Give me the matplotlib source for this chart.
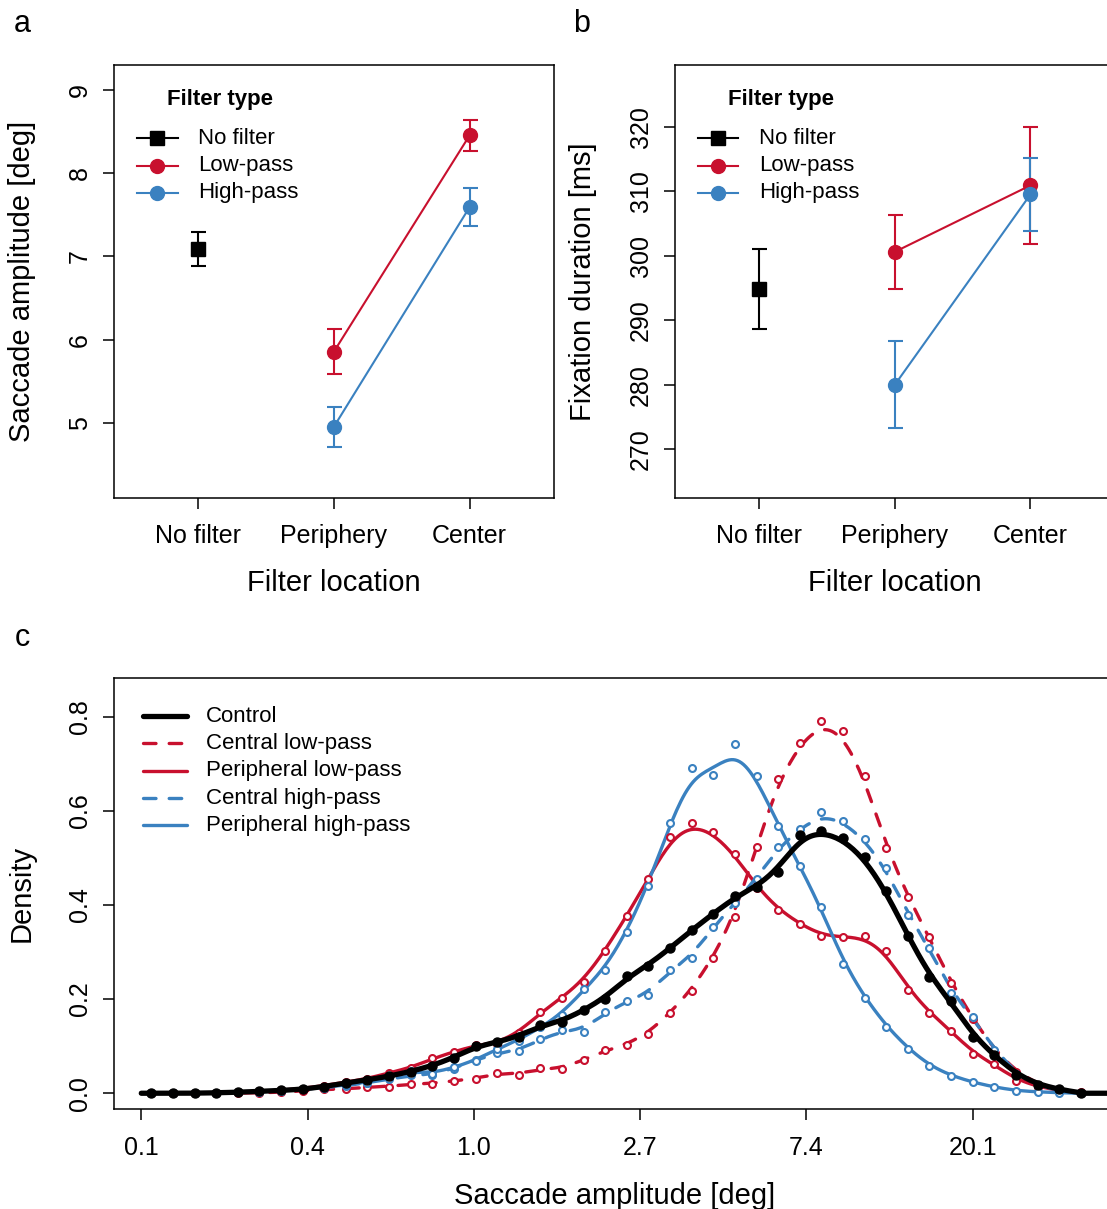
import numpy as np
import matplotlib.pyplot as plt

plt.rcParams['font.family'] = ['Liberation Sans', 'DejaVu Sans']
plt.rcParams['lines.scale_dashes'] = False

RED = '#C8102E'
BLUE = '#3A81C0'

##### Panel a/b data: means and standard errors per filter location
locations = ['No filter', 'Periphery', 'Center']

amp_none, amp_none_se = 7.09, 0.20
amp_low = [5.86, 8.45]
amp_low_se = [0.27, 0.19]
amp_high = [4.96, 7.59]
amp_high_se = [0.24, 0.225]

dur_none, dur_none_se = 294.9, 6.2
dur_low = [300.6, 310.9]
dur_low_se = [5.75, 9.1]
dur_high = [280.0, 309.5]
dur_high_se = [6.8, 5.7]

##### Panel c data: density of log saccade amplitude (bin centres in ln(deg))
log_amp = [-1.94, -1.81, -1.68, -1.55, -1.42, -1.29, -1.16, -1.03, -0.90, -0.77,
           -0.64, -0.51, -0.38, -0.25, -0.12, 0.01, 0.14, 0.27, 0.40, 0.53,
           0.66, 0.79, 0.92, 1.05, 1.18, 1.31, 1.44, 1.57, 1.70, 1.83,
           1.96, 2.09, 2.22, 2.35, 2.48, 2.61, 2.74, 2.87, 3.00, 3.13,
           3.26, 3.39, 3.52, 3.65]

control = [0.000, 0.000, 0.000, 0.001, 0.002, 0.004, 0.006, 0.008, 0.014, 0.022,
           0.028, 0.036, 0.046, 0.058, 0.075, 0.101, 0.108, 0.120, 0.145, 0.151,
           0.177, 0.200, 0.248, 0.271, 0.308, 0.347, 0.381, 0.418, 0.438, 0.471,
           0.549, 0.558, 0.542, 0.501, 0.430, 0.334, 0.246, 0.197, 0.120, 0.081,
           0.039, 0.018, 0.008, 0.001]
central_low = [0.000, 0.000, 0.000, 0.000, 0.000, 0.001, 0.002, 0.005, 0.008, 0.009,
               0.013, 0.014, 0.020, 0.020, 0.027, 0.030, 0.044, 0.039, 0.053, 0.051,
               0.071, 0.091, 0.103, 0.126, 0.171, 0.218, 0.287, 0.374, 0.524, 0.668,
               0.744, 0.791, 0.770, 0.674, 0.520, 0.416, 0.331, 0.234, 0.158, 0.090,
               0.045, 0.018, 0.007, 0.002]
peripheral_low = [0.000, 0.000, 0.000, 0.001, 0.002, 0.004, 0.006, 0.010, 0.016, 0.024,
                  0.030, 0.044, 0.053, 0.074, 0.088, 0.103, 0.105, 0.127, 0.172, 0.203,
                  0.237, 0.303, 0.377, 0.455, 0.544, 0.575, 0.555, 0.508, 0.437, 0.389,
                  0.360, 0.333, 0.332, 0.333, 0.303, 0.219, 0.171, 0.133, 0.084, 0.062,
                  0.027, 0.014, 0.005, 0.001]
central_high = [0.000, 0.000, 0.000, 0.001, 0.002, 0.003, 0.005, 0.008, 0.012, 0.016,
                0.022, 0.030, 0.038, 0.039, 0.052, 0.071, 0.086, 0.089, 0.115, 0.134,
                0.131, 0.172, 0.196, 0.209, 0.262, 0.288, 0.354, 0.404, 0.455, 0.524,
                0.561, 0.597, 0.578, 0.541, 0.478, 0.379, 0.309, 0.212, 0.162, 0.092,
                0.040, 0.015, 0.005, 0.001]
peripheral_high = [0.000, 0.000, 0.000, 0.001, 0.002, 0.003, 0.005, 0.008, 0.012, 0.018,
                   0.022, 0.037, 0.048, 0.040, 0.055, 0.069, 0.095, 0.112, 0.140, 0.166,
                   0.221, 0.262, 0.342, 0.441, 0.574, 0.690, 0.677, 0.742, 0.673, 0.568,
                   0.483, 0.395, 0.275, 0.203, 0.141, 0.095, 0.057, 0.037, 0.023, 0.013,
                   0.005, 0.003, 0.001, 0.000]

x_ticks = [-2, -1, 0, 1, 2, 3]
x_ticklabels = ['0.1', '0.4', '1.0', '2.7', '7.4', '20.1']


def smooth(x, y, grid, h=0.1):
    # gaussian-weighted local linear fit
    x = np.asarray(x); y = np.asarray(y)
    out = []
    for g in grid:
        w = np.exp(-0.5 * ((x - g) / h) ** 2)
        A = np.vstack([np.ones_like(x), x - g]).T
        coef = np.linalg.solve(A.T @ (A * w[:, None]), A.T @ (w * y))
        out.append(coef[0])
    return np.clip(out, 0, None)


def key(ax, x0, x1, xt, y, label, fs=16, **kw):
    ax.plot([x0, (x0 + x1) / 2, x1], [y, y, y], transform=ax.transAxes,
            clip_on=False, markevery=[1], **kw)
    ax.text(xt, y, label, transform=ax.transAxes, va='center', fontsize=fs)


def style_axes(ax):
    for s in ax.spines.values():
        s.set_linewidth(1.1)
    ax.tick_params(length=8, width=1.1, labelsize=18, pad=8)
    ax.tick_params(axis='x', pad=11)
    ax.tick_params(axis='y', labelrotation=90)
    for t in ax.get_yticklabels():
        t.set_va('center')


def effect_panel(ax, none, none_se, low, low_se, high, high_se, ylim, yticks, ylabel):
    ax.errorbar([1], [none], yerr=[none_se], color='black', marker='s', ms=9.5,
                lw=1.5, capsize=5.4, capthick=1.5)
    ax.errorbar([2, 3], low, yerr=low_se, color=RED, marker='o', ms=10,
                lw=1.5, capsize=5.4, capthick=1.5)
    ax.errorbar([2, 3], high, yerr=high_se, color=BLUE, marker='o', ms=10,
                lw=1.5, capsize=5.4, capthick=1.5)
    ax.set_xlim(0.38, 3.62)
    ax.set_ylim(*ylim)
    ax.set_xticks([1, 2, 3], locations)
    ax.set_yticks(yticks)
    ax.set_xlabel('Filter location', fontsize=21)
    ax.set_ylabel(ylabel, fontsize=21)
    ax.xaxis.set_label_coords(0.5, -0.166)
    ax.yaxis.set_label_coords(-0.179, 0.5)
    style_axes(ax)
    # legend
    ax.text(0.12, 0.922, 'Filter type', transform=ax.transAxes, va='center',
            fontsize=16, fontweight='bold')
    key(ax, 0.0517, 0.1439, 0.1905, 0.8316, 'No filter', color='black', marker='s', ms=9.5, lw=1.5)
    key(ax, 0.0517, 0.1439, 0.1905, 0.768, 'Low-pass', color=RED, marker='o', ms=10, lw=1.5)
    key(ax, 0.0517, 0.1439, 0.1905, 0.7055, 'High-pass', color=BLUE, marker='o', ms=10, lw=1.5)


fig = plt.figure(figsize=(11.07, 12.09), dpi=100)
ax_a = fig.add_axes([0.1033, 0.5885, 0.3968, 0.3574])
ax_b = fig.add_axes([0.6100, 0.5885, 0.3968, 0.3574])
ax_c = fig.add_axes([0.1030, 0.0825, 0.9259, 0.3567])

effect_panel(ax_a, amp_none, amp_none_se, amp_low, amp_low_se, amp_high, amp_high_se,
             (4.11, 9.29), [5, 6, 7, 8, 9], 'Saccade amplitude [deg]')
effect_panel(ax_b, dur_none, dur_none_se, dur_low, dur_low_se, dur_high, dur_high_se,
             (262.5, 329.5), [270, 280, 290, 300, 310, 320], 'Fixation duration [ms]')

##### Panel c
grid = np.linspace(-2.0, 4.3, 500)
dash = (0, (9, 9.5))
series = [
    ('Central low-pass', central_low, RED, dash),
    ('Peripheral low-pass', peripheral_low, RED, '-'),
    ('Central high-pass', central_high, BLUE, dash),
    ('Peripheral high-pass', peripheral_high, BLUE, '-'),
]
for name, vals, col, ls in series:
    ax_c.plot(grid, smooth(log_amp, vals, grid), color=col, ls=ls, lw=2.4,
              dash_capstyle='round', zorder=2)
    ax_c.plot(log_amp, vals, 'o', ms=5, mfc='white', mec=col, mew=1.5, zorder=3)
ax_c.plot(grid, smooth(log_amp, control, grid), color='black', lw=3.8,
          solid_capstyle='round', zorder=4)
ax_c.plot(log_amp, control, 'o', ms=6.5, color='black', zorder=4)

ax_c.set_xlim(-2.164, 4.0)
ax_c.set_ylim(-0.034, 0.882)
ax_c.set_xticks(x_ticks, x_ticklabels)
ax_c.set_yticks([0.0, 0.2, 0.4, 0.6, 0.8])
ax_c.yaxis.set_major_formatter(plt.FormatStrFormatter('%.1f'))
ax_c.set_xlabel('Saccade amplitude [deg]', fontsize=21)
ax_c.set_ylabel('Density', fontsize=21)
ax_c.xaxis.set_label_coords(0.488, -0.168)
ax_c.yaxis.set_label_coords(-0.076, 0.5)
style_axes(ax_c)

lx0, lx1, lxt = 0.0283, 0.0712, 0.0898
key(ax_c, lx0, lx1, lxt, 0.9119, 'Control', color='black', lw=3.8, solid_capstyle='round')
key(ax_c, lx0, lx1, lxt, 0.8485, 'Central low-pass', color=RED, lw=2.4, ls=dash, dash_capstyle='round')
key(ax_c, lx0, lx1, lxt, 0.7855, 'Peripheral low-pass', color=RED, lw=2.4, solid_capstyle='round')
key(ax_c, lx0, lx1, lxt, 0.7217, 'Central high-pass', color=BLUE, lw=2.4, ls=dash, dash_capstyle='round')
key(ax_c, lx0, lx1, lxt, 0.6591, 'Peripheral high-pass', color=BLUE, lw=2.4, solid_capstyle='round')

# panel letters
fig.text(22 / 1107, 1 - 24 / 1209, 'a', fontsize=22, ha='center', va='center')
fig.text(582 / 1107, 1 - 24 / 1209, 'b', fontsize=22, ha='center', va='center')
fig.text(22 / 1107, 1 - 638 / 1209, 'c', fontsize=22, ha='center', va='center')

fig.savefig('out.png', dpi=100)
